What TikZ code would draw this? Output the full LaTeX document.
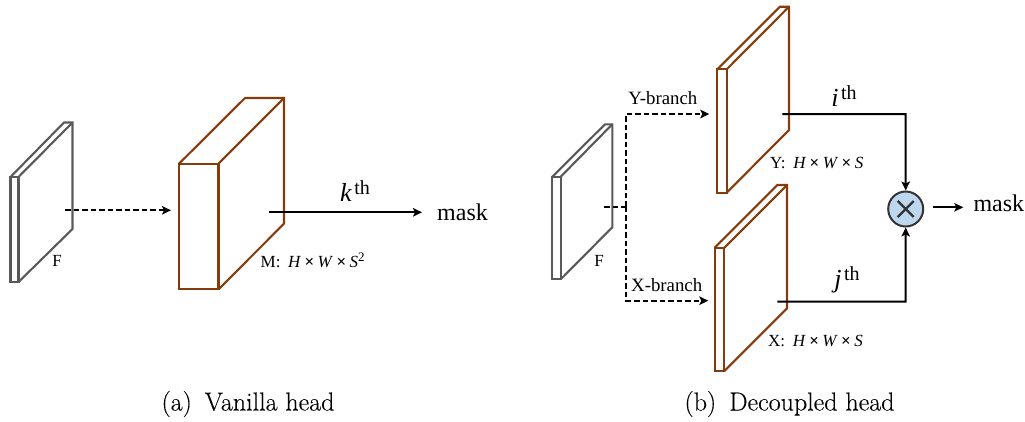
\documentclass[tikz,border=0pt]{standalone}
\usepackage{fontspec}
\usetikzlibrary{arrows.meta,calc}
\newfontfamily\labfont{Liberation Serif}
\newfontfamily\capfont[FakeBold=0.2]{Latin Modern Roman}
\definecolor{boxbrown}{HTML}{843C0C}
\definecolor{boxgray}{HTML}{595959}
\definecolor{opfill}{HTML}{BDD7EE}
\definecolor{opline}{HTML}{333333}
\tikzset{
  brownbox/.style={draw=boxbrown,line width=2.1pt,line join=miter,fill=none},
  graybox/.style={draw=boxgray,line width=2.1pt,line join=miter,fill=none},
  tip/.style={-{Stealth[length=9pt,width=8.5pt,inset=2pt]}},
  solidline/.style={black,line width=2pt},
  dashline/.style={black,line width=1.9pt,dash pattern=on 5.5pt off 3pt},
  dimlabel/.style={anchor=base,inner sep=0,font=\labfont\fontsize{17}{18}\selectfont},
  branchlabel/.style={anchor=base,inner sep=0,font=\labfont\fontsize{18.8}{20}\selectfont},
  masklabel/.style={anchor=base west,inner sep=0,font=\labfont\fontsize{24}{26}\selectfont},
  ordlabel/.style={anchor=base,inner sep=0,font=\labfont\fontsize{26}{28}\selectfont},
  caption/.style={anchor=base,inner sep=0,font=\capfont\fontsize{26}{28}\selectfont},
  opnode/.style={circle,draw=opline,fill=opfill,line width=2pt,minimum size=35pt,inner sep=0}
}
\newcommand{\dimtimes}{\hspace{0.2em}{\bfseries×}\hspace{0.2em}}
\newcommand{\ordth}[1]{\textit{#1}\raisebox{7pt}{\fontsize{20}{22}\selectfont\hspace{0.12em}th}}
\begin{document}
\begin{tikzpicture}[x=1pt,y=-1pt]
\useasboundingbox (0,0) rectangle (1025,421);
% (a) F plate
\draw[graybox] (10.5,177) rectangle (18.5,282);
\draw[graybox] (10.5,177) -- (64,122.5) -- (72.5,122.5) -- (72.5,229) -- (18.5,282);
\draw[graybox] (18.5,177) -- (72.5,122.5);
% (a) M box
\draw[brownbox] (179,163.7) rectangle (218.5,289.3);
\draw[brownbox] (179,163.7) -- (245,98) -- (284,98) -- (284,223.7) -- (218.5,289.3);
\draw[brownbox] (218.5,163.7) -- (284,98);
% (b) F plate
\draw[graybox] (552.3,176.7) rectangle (560.7,279.3);
\draw[graybox] (552.3,176.7) -- (605,124.3) -- (612.3,124.3) -- (612.3,227.3) -- (560.7,279.3);
\draw[graybox] (560.7,176.7) -- (612.3,124.3);
% (b) Y plate
\draw[brownbox] (717.3,69.3) rectangle (726.7,192.7);
\draw[brownbox] (717.3,69.3) -- (780,6.7) -- (789,6.7) -- (789,130) -- (726.7,192.7);
\draw[brownbox] (726.7,69.3) -- (789,6.7);
% (b) X plate
\draw[brownbox] (714.7,247.7) rectangle (724.3,371);
\draw[brownbox] (714.7,247.7) -- (777.3,185) -- (787,185) -- (787,308.3) -- (724.3,371);
\draw[brownbox] (724.3,247.7) -- (787,185);
% coordinates
\coordinate (fa) at (65,210.3);
\coordinate (ma) at (171,210.3);
\coordinate (ka) at (269,212.3);
\coordinate (kb) at (422,212.3);
\coordinate (fb) at (604.3,206.7);
\coordinate (split) at (626,206.7);
\coordinate (ycorner) at (626,114);
\coordinate (xcorner) at (626,300.7);
\coordinate (yin) at (709.3,114);
\coordinate (xin) at (708.3,300.7);
\coordinate (yout) at (782.3,114);
\coordinate (xout) at (777.3,301.7);
\coordinate (ybend) at (905.5,114);
\coordinate (xbend) at (905.5,301.7);
\coordinate (outa) at (932.7,207.3);
\coordinate (outb) at (963.3,207.3);
% operator
\node[opnode] (op) at (905.7,209) {};
\draw[opline,line width=2.4pt] ($(op)+(-8,-8)$) -- ($(op)+(8,8)$);
\draw[opline,line width=2.4pt] ($(op)+(-8,8)$) -- ($(op)+(8,-8)$);
% connectors
\draw[dashline,tip] (fa) -- (ma);
\draw[solidline,tip] (ka) -- (kb);
\draw[dashline] (fb) -- (split);
\draw[dashline,tip] (split) -- (ycorner) -- (yin);
\draw[dashline,tip] (split) -- (xcorner) -- (xin);
\draw[solidline,tip] (yout) -- (ybend) -- (op.north);
\draw[solidline,tip] (xout) -- (xbend) -- (op.south);
\draw[solidline,tip] (outa) -- (outb);
% labels
\node[ordlabel] (lk) at (355,201) {\ordth{k}};
\node[masklabel] (mask1) at (437,220.7) {mask};
\node[dimlabel] (lf1) at (57,266) {F};
\node[dimlabel,anchor=base west] (lm) at (260.5,267) {M:\hspace{0.45em}\textit{H}\dimtimes\textit{W}\dimtimes\textit{S}\raisebox{6pt}{\fontsize{13}{14}\selectfont 2}};
\node[dimlabel] (lf2) at (599,266) {F};
\node[branchlabel] (lyb) at (662.8,104) {Y-branch};
\node[branchlabel] (lxb) at (666.7,291.7) {X-branch};
\node[dimlabel,anchor=base west] (ly) at (770,168) {Y:\hspace{0.45em}\textit{H}\dimtimes\textit{W}\dimtimes\textit{S}};
\node[dimlabel,anchor=base west] (lx) at (768,346.7) {X:\hspace{0.45em}\textit{H}\dimtimes\textit{W}\dimtimes\textit{S}};
\node[ordlabel] (li) at (844,106.7) {\ordth{i}};
\node[ordlabel] (lj) at (847,287) {\ordth{j}};
\node[masklabel] (mask2) at (973.3,211.7) {mask};
\node[caption] (capa) at (248,410.5) {(a)\hspace{0.2em} Vanilla head};
\node[caption] (capb) at (789.5,410.5) {(b)\hspace{0.2em} Decoupled head};
\end{tikzpicture}
\end{document}
